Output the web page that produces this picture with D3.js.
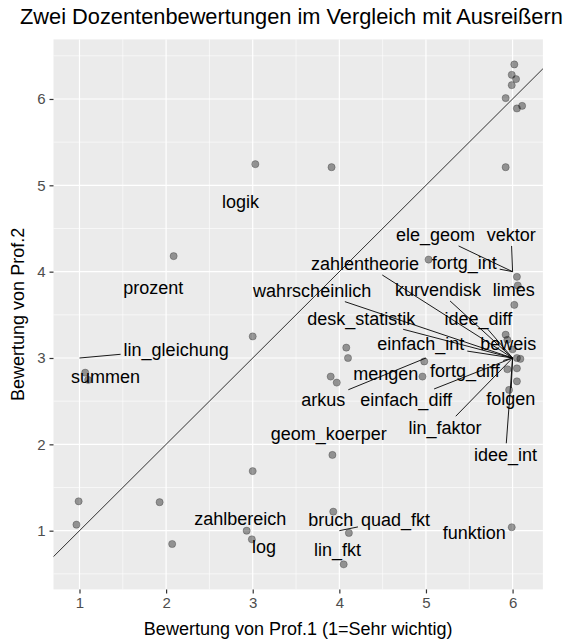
<!DOCTYPE html>
<html><head><meta charset="utf-8">
<script src="https://cdn.jsdelivr.net/npm/d3@7"></script>
<style>body{margin:0;background:#fff;} text{font-family:"Liberation Sans",Arial,sans-serif;}</style>
</head><body><svg id="c" width="575" height="639"></svg>
<script>
// jittered points (Prof.1, Prof.2)
const prof1 = [6.02,5.99,6.04,5.99,5.92,6.05,6.11,5.92,3.03,3.91,2.087,5.03,6.05,6.06,6.02,3.0,1.066,1.10,4.08,4.10,3.90,3.97,4.98,4.96,3.92,3.0,0.99,1.925,0.965,2.07,2.93,2.99,3.93,4.11,4.05,5.99,5.92,5.94,6.0,6.05,6.09,5.94,6.05,6.05,5.96];
const prof2 = [6.40,6.28,6.23,6.16,6.01,5.89,5.92,5.21,5.245,5.21,4.18,4.14,3.94,3.84,3.615,3.25,2.83,2.746,3.12,3.0,2.785,2.715,2.96,2.785,1.877,1.69,1.34,1.33,1.07,0.846,1.0,0.90,1.22,0.974,0.61,1.04,3.27,3.21,3.1,3.0,2.99,2.87,2.88,2.73,2.63];
// labels: text, label position (data units), target (true rating) or null
const labelText = ["logik","prozent","lin_gleichung","summen","ele_geom","vektor","fortg_int","limes","kurvendisk","zahlentheorie","wahrscheinlich","desk_statistik","idee_diff","einfach_int","beweis","mengen","fortg_diff","arkus","einfach_diff","folgen","lin_faktor","geom_koerper","idee_int","zahlbereich","bruch","quad_fkt","lin_fkt","log","funktion"];
const labelX = [2.859,1.852,2.116,1.300,5.110,5.984,5.441,6.014,5.139,4.296,3.686,4.253,5.604,4.940,5.950,4.536,5.450,3.815,4.772,5.979,5.220,3.878,5.918,2.856,3.901,4.648,3.979,3.130,5.557];
const labelY = [4.807,3.819,3.101,2.784,4.425,4.425,4.109,3.796,3.788,4.089,3.780,3.460,3.460,3.162,3.170,2.815,2.853,2.514,2.514,2.525,2.198,2.120,1.885,1.136,1.132,1.132,0.785,0.815,0.977];
const targetX = [null,null,1,null,6,6,6,null,6,6,6,6,6,6,6,null,6,5,6,6,6,null,6,null,null,4,null,null,null];
const targetY = [null,null,3,null,4,4,4,null,3,3,3,3,3,3,3,null,3,3,3,3,3,null,3,null,null,1,null,null,null];
const xTicks = [1,2,3,4,5,6];
const yTicks = [1,2,3,4,5,6];
const titleText = "Zwei Dozentenbewertungen im Vergleich mit Ausreißern";
const xTitle = "Bewertung von Prof.1 (1=Sehr wichtig)";
const yTitle = "Bewertung von Prof.2";

const svg = d3.select("#c");
const L = 53.5, R = 542.9, T = 39.4, B = 589.4;
const x = d3.scaleLinear().domain([0.70, 6.35]).range([L, R]);
const y = d3.scaleLinear().domain([0.32, 6.69]).range([B, T]);
const FONT = '"Liberation Sans",Arial,sans-serif';

svg.append("text").attr("x", 20).attr("y", 24).attr("font-size", 21.8).attr("fill", "#000").text(titleText);

svg.append("rect").attr("x", L).attr("y", T).attr("width", R - L).attr("height", B - T).attr("fill", "#EBEBEB");
svg.append("clipPath").attr("id", "cp").append("rect").attr("x", L).attr("y", T).attr("width", R - L).attr("height", B - T);
const g = svg.append("g");
const minorX = d3.range(0.5, 7, 1).filter(v => v > 0.70 && v < 6.35);
const minorY = d3.range(0.5, 7, 1).filter(v => v > 0.32 && v < 6.69);
g.selectAll(".mx").data(minorX).join("line").attr("x1", d => x(d)).attr("x2", d => x(d)).attr("y1", T).attr("y2", B).attr("stroke", "#fff").attr("stroke-width", 0.6);
g.selectAll(".my").data(minorY).join("line").attr("y1", d => y(d)).attr("y2", d => y(d)).attr("x1", L).attr("x2", R).attr("stroke", "#fff").attr("stroke-width", 0.6);
g.selectAll(".gx").data(xTicks).join("line").attr("x1", d => x(d)).attr("x2", d => x(d)).attr("y1", T).attr("y2", B).attr("stroke", "#fff").attr("stroke-width", 1.2);
g.selectAll(".gy").data(yTicks).join("line").attr("y1", d => y(d)).attr("y2", d => y(d)).attr("x1", L).attr("x2", R).attr("stroke", "#fff").attr("stroke-width", 1.2);

// axes
const xa = svg.append("g").attr("transform", `translate(0,${B})`).call(d3.axisBottom(x).tickValues(xTicks).tickSize(4).tickPadding(4).tickFormat(d3.format("d")));
const ya = svg.append("g").attr("transform", `translate(${L},0)`).call(d3.axisLeft(y).tickValues(yTicks).tickSize(4).tickPadding(4).tickFormat(d3.format("d")));
[xa, ya].forEach(a => {
  a.select(".domain").remove();
  a.selectAll(".tick line").attr("stroke", "#333").attr("stroke-width", 1.2);
  a.selectAll(".tick text").attr("fill", "#4D4D4D").attr("font-size", 15).attr("font-family", FONT);
});

// points
const pts = prof1.map((v, i) => ({x: v, y: prof2[i]}));
svg.append("g").attr("clip-path", "url(#cp)").selectAll("circle").data(pts).join("circle")
  .attr("cx", d => x(d.x)).attr("cy", d => y(d.y)).attr("r", 3.6)
  .attr("fill", "rgba(0,0,0,0.38)").attr("stroke", "rgba(0,0,0,0.3)").attr("stroke-width", 0.8);

// identity line
svg.append("line").attr("clip-path", "url(#cp)")
  .attr("x1", x(0)).attr("y1", y(0)).attr("x2", x(7)).attr("y2", y(7))
  .attr("stroke", "#000").attr("stroke-width", 0.8);

// labels with repel-like segments
const labs = labelText.map((t, i) => ({t, lx: labelX[i], ly: labelY[i], tx: targetX[i], ty: targetY[i]}));
const lg = svg.append("g");
const segG = lg.append("g");
const txtG = lg.append("g");
labs.forEach(d => {
  const cx = x(d.lx), cy = y(d.ly);
  const te = txtG.append("text").attr("x", cx).attr("y", cy).attr("dy", "0.35em").attr("text-anchor", "middle")
    .attr("font-size", 18).attr("fill", "#000").text(d.t);
  if (d.tx === null) return;
  const bb = te.node().getBBox();
  const hw = bb.width / 2 + 3, hh = 11;
  const px = x(d.tx), py = y(d.ty);
  const dx = px - cx, dy = py - cy;
  const tX = dx === 0 ? Infinity : hw / Math.abs(dx);
  const tY = dy === 0 ? Infinity : hh / Math.abs(dy);
  const t = Math.min(tX, tY);
  if (t >= 1) return;
  const sx = cx + dx * t, sy = cy + dy * t;
  if (Math.hypot(px - sx, py - sy) < 6) return;
  segG.append("line").attr("x1", sx).attr("y1", sy).attr("x2", px).attr("y2", py).attr("stroke", "#000").attr("stroke-width", 0.9);
});

svg.append("text").attr("x", (L + R) / 2).attr("y", 635).attr("text-anchor", "middle").attr("font-size", 18).attr("fill", "#000").text(xTitle);
svg.append("text").attr("transform", `translate(24,${(T + B) / 2}) rotate(-90)`).attr("text-anchor", "middle").attr("font-size", 18).attr("fill", "#000").text(yTitle);
</script></body></html>
